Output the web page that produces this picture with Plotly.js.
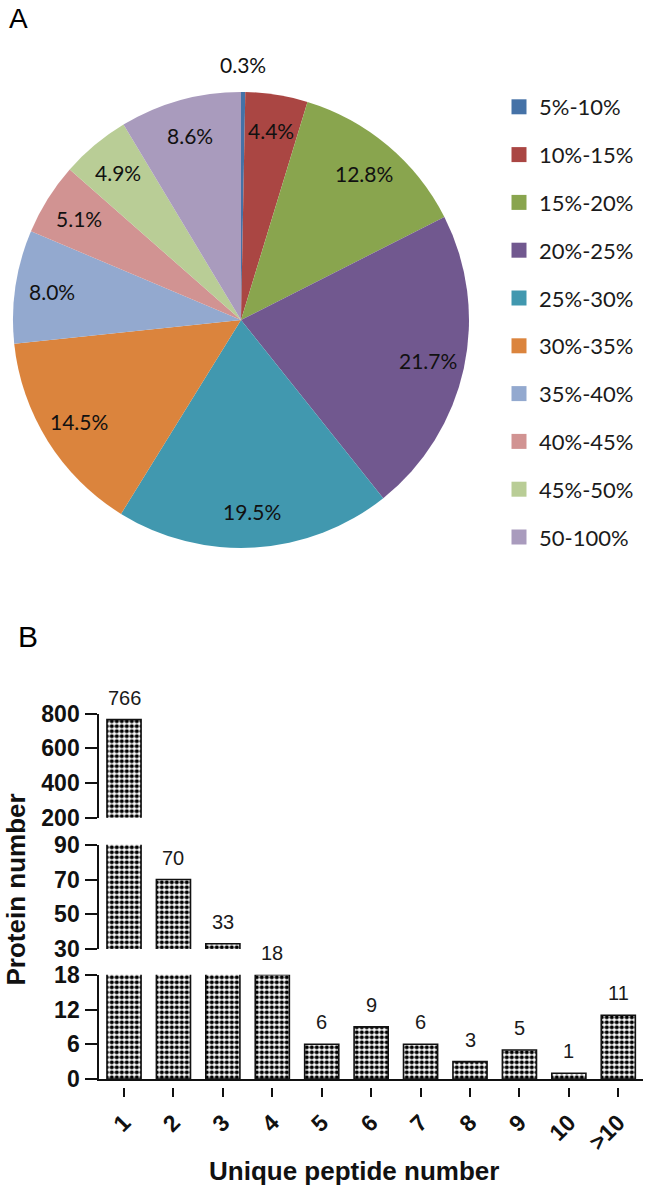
<!DOCTYPE html>
<html>
<head>
<meta charset="utf-8">
<script src="https://cdn.plot.ly/plotly-3.0.1.min.js"></script>
<style>html,body{margin:0;padding:0;background:#fff;}#chart{width:650px;height:1190px;}</style>
</head>
<body>
<div id="chart"></div>
<script>
// ---------- DATA ----------
const pieLabels = ['5%-10%','10%-15%','15%-20%','20%-25%','25%-30%','30%-35%','35%-40%','40%-45%','45%-50%','50-100%'];
const pieValues = [0.3, 4.4, 12.8, 21.7, 19.5, 14.5, 8.0, 5.1, 4.9, 8.6];
const pieColors = ['#4572A7','#AA4643','#89A54E','#71588F','#4198AF','#DB843D','#93A9CF','#D19392','#B9CD96','#A99BBD'];

const categories = ['1','2','3','4','5','6','7','8','9','10','>10'];
const proteinCounts = [766, 70, 33, 18, 6, 9, 6, 3, 5, 1, 11];

const yTicksTop = [200, 400, 600, 800];
const yTicksMid = [30, 50, 70, 90];
const yTicksLow = [0, 6, 12, 18];

// ---------- LAYOUT HELPERS ----------
const W = 650, H = 1190;
const py = p => 1 - p / H;           // pixel-y -> paper
const px = p => p / W;               // pixel-x -> paper
const arial = 'Arial, "Liberation Sans", sans-serif';
const calib = 'Lato, "Open Sans", sans-serif';

const pieDomain = {x: [px(13), px(469)], y: [py(548), py(92)]};

const annotations = [];
function note(o) { annotations.push(Object.assign({showarrow: false, xanchor: 'center', yanchor: 'middle'}, o)); }

// pie value labels positioned from the slice angles
(function () {
  const cx = (pieDomain.x[0] + pieDomain.x[1]) / 2 * W;
  const cy = (1 - (pieDomain.y[0] + pieDomain.y[1]) / 2) * H;
  const R = Math.min((pieDomain.x[1] - pieDomain.x[0]) * W, (pieDomain.y[1] - pieDomain.y[0]) * H) / 2;
  const total = pieValues.reduce((a, b) => a + b, 0);
  let cum = 0;
  pieValues.forEach(v => {
    const a = (cum + v / 2) / total * 2 * Math.PI;
    cum += v;
    const rf = v < 1 ? 1.12 : 0.84;
    const lx = cx + rf * R * Math.sin(a);
    const ly = cy - rf * R * Math.cos(a);
    note({xref: 'paper', yref: 'paper', x: lx / W, y: 1 - ly / H,
      text: v.toFixed(1) + '%', font: {family: calib, size: 21, color: '#111'}});
  });
})();

// bar value labels
function axisFor(v) {
  if (v >= yTicksTop[0]) return 'y';
  if (v >= yTicksMid[0]) return 'y2';
  return 'y3';
}
categories.forEach((c, i) => {
  note({xref: 'x', yref: axisFor(proteinCounts[i]), x: i, y: proteinCounts[i],
    text: String(proteinCounts[i]), yshift: 22,
    font: {family: arial, size: 20, color: '#1a1a1a'}});
});

// titles and panel letters
note({xref: 'paper', yref: 'paper', x: px(15.5), y: py(890), text: 'Protein number',
  textangle: -90, font: {family: arial, size: 26, color: '#111', weight: 'bold'}});
note({xref: 'paper', yref: 'paper', x: px(354), y: py(1171), text: 'Unique peptide number',
  font: {family: arial, size: 26, color: '#111', weight: 'bold'}});
note({xref: 'paper', yref: 'paper', x: px(18), y: py(19), text: 'A',
  font: {family: arial, size: 28, color: '#000'}});
note({xref: 'paper', yref: 'paper', x: px(28), y: py(636), text: 'B',
  font: {family: arial, size: 30, color: '#000'}});

// ---------- TRACES ----------
const traces = [];
traces.push({
  type: 'pie', labels: pieLabels, values: pieValues, sort: false, direction: 'clockwise', rotation: 0,
  marker: {colors: pieColors, line: {width: 0}}, textinfo: 'none', showlegend: false,
  domain: pieDomain, hoverinfo: 'label+value'
});

const barStyle = {
  color: 'white',
  line: {color: '#111', width: 1.6},
  pattern: {shape: '.', fgcolor: '#000', bgcolor: '#fff', size: 5, solidity: 0.55, fillmode: 'replace'}
};
['y', 'y2', 'y3'].forEach(ax => {
  traces.push({type: 'bar', x: categories, y: proteinCounts, xaxis: 'x', yaxis: ax,
    marker: barStyle, showlegend: false, hoverinfo: 'x+y'});
});
// invisible carrier for the tick-label axis
traces.push({type: 'scatter', mode: 'markers', x: categories, y: proteinCounts, xaxis: 'x2', yaxis: 'y3',
  marker: {opacity: 0, size: 1}, showlegend: false, hoverinfo: 'skip'});

// legend entries (one per pie slice)
pieLabels.forEach((lab, i) => {
  traces.push({type: 'scatter', mode: 'markers', x: [null], y: [null], xaxis: 'x2', yaxis: 'y3',
    name: lab, legendgroup: 'g' + i, showlegend: true, hoverinfo: 'skip',
    marker: {symbol: 'square', size: 15, color: pieColors[i], line: {width: 0}}});
});

// ---------- AXES ----------
const xDomain = [px(99.3), px(643)];
const yAxisBase = {
  anchor: 'x', showline: true, linecolor: '#111', linewidth: 2, ticks: 'outside', ticklen: 12,
  tickwidth: 2, tickcolor: '#111', showgrid: false, zeroline: false, tickmode: 'array',
  ticklabelstandoff: 1,
  tickfont: {family: arial, size: 23, color: '#111', weight: 'bold'}, automargin: false, fixedrange: true
};
const layout = {
  width: W, height: H, margin: {l: 0, r: 0, t: 0, b: 0},
  paper_bgcolor: 'white', plot_bgcolor: 'rgba(0,0,0,0)',
  bargap: 0.31, showlegend: true,
  legend: {x: px(499), y: py(86), xanchor: 'left', yanchor: 'top', traceorder: 'grouped',
    tracegroupgap: 16.2, font: {family: calib, size: 22, color: '#1a1a1a'}, bgcolor: 'rgba(0,0,0,0)'},
  xaxis: {domain: xDomain, anchor: 'y3', type: 'category', categoryorder: 'array', categoryarray: categories,
    range: [-0.5, categories.length - 0.5], showline: true, linecolor: '#111', linewidth: 2,
    ticks: '', showticklabels: false, showgrid: false, zeroline: false, automargin: false, fixedrange: true},
  xaxis2: {domain: xDomain, overlaying: 'x', anchor: 'free', position: py(1087), side: 'bottom',
    type: 'category', categoryorder: 'array', categoryarray: categories,
    range: [-0.5, categories.length - 0.5], showline: false, ticks: 'outside', ticklen: 9, tickwidth: 2,
    tickcolor: '#111', tickangle: -45, showgrid: false, zeroline: false, automargin: false, fixedrange: true,
    ticklabelstandoff: 3,
    tickfont: {family: arial, size: 23, color: '#111', weight: 'bold'}},
  yaxis: Object.assign({}, yAxisBase, {domain: [py(817.7), py(713.7)],
    range: [Math.min(...yTicksTop), Math.max(...yTicksTop)], tickvals: yTicksTop}),
  yaxis2: Object.assign({}, yAxisBase, {domain: [py(949), py(844.8)],
    range: [Math.min(...yTicksMid), Math.max(...yTicksMid)], tickvals: yTicksMid}),
  yaxis3: Object.assign({}, yAxisBase, {domain: [py(1079), py(974.8)],
    range: [Math.min(...yTicksLow), Math.max(...yTicksLow)], tickvals: yTicksLow}),
  annotations: annotations
};

Plotly.newPlot('chart', traces, layout, {displayModeBar: false, staticPlot: true});
</script>
</body>
</html>
